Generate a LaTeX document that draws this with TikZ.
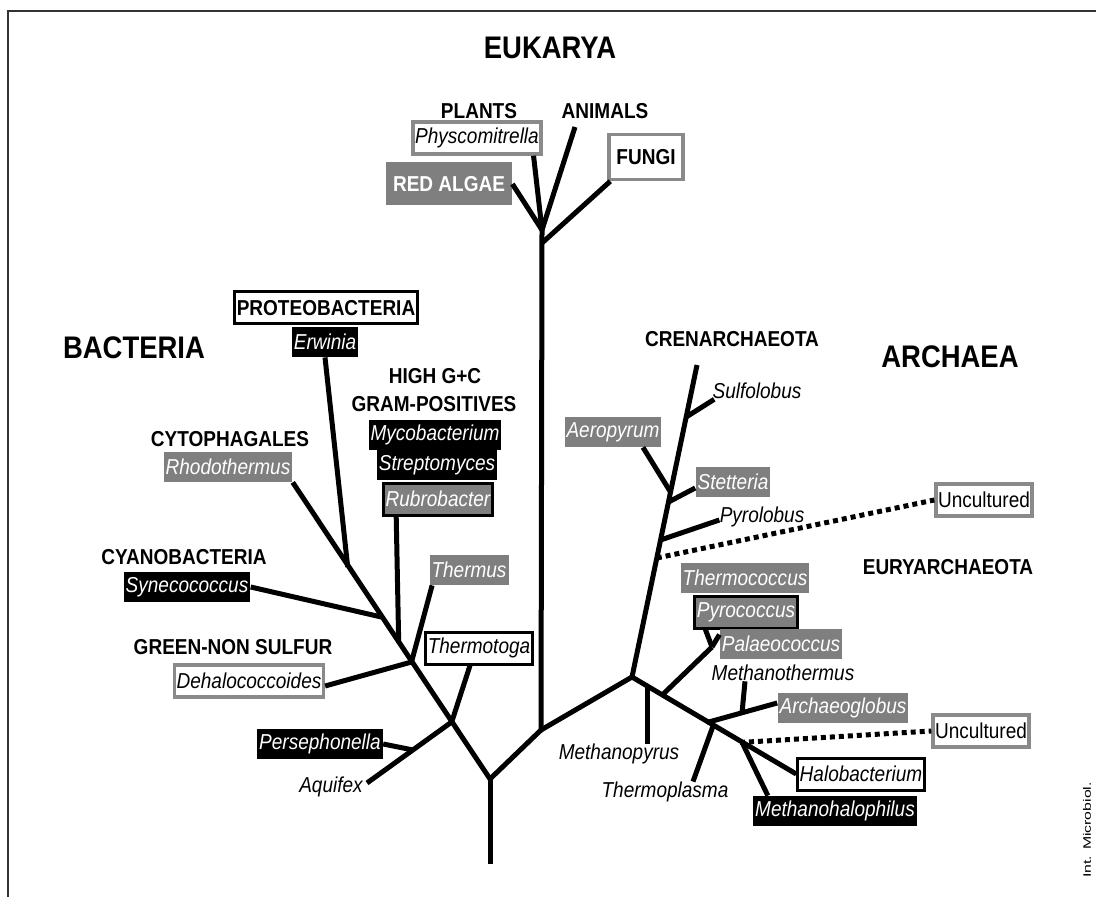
\documentclass[tikz,border=0pt]{standalone}
\usepackage{fontspec}
\setmainfont{Liberation Sans}[FakeStretch=0.88]
\definecolor{midgray}{HTML}{7F7F7F}
\definecolor{edgegray}{HTML}{8A8A8A}
\newcommand{\mysp}{\fontsize{10.8}{12}\selectfont\itshape}
\newcommand{\mygp}{\fontsize{10.8}{12}\selectfont\bfseries}
\newcommand{\mygr}{\fontsize{10.8}{12}\selectfont}
\newcommand{\mybig}{\fontsize{15.6}{18}\selectfont\bfseries}
\begin{document}
\begin{tikzpicture}[x=0.5pt,y=-0.5pt,
  sp/.style={font=\mysp, inner sep=0pt},
  grp/.style={font=\mygp, inner sep=0pt},
  big/.style={font=\mybig, inner sep=0pt},
  boxbase/.style={inner xsep=1pt, inner ysep=0pt, minimum height=15pt, font=\mysp, text=white},
  blk/.style={boxbase, fill=black},
  gry/.style={boxbase, fill=midgray},
  gryb/.style={boxbase, fill=midgray, draw=black, line width=1.5pt, minimum height=16pt},
  wb/.style={boxbase, text=black, fill=white, draw=black, line width=1.5pt, minimum height=16pt},
  wg/.style={boxbase, text=black, fill=white, draw=edgegray, line width=1.75pt, minimum height=16pt},
  branch/.style={line width=2.5pt, black},
  dotline/.style={line width=2.5pt, black, dash pattern=on 2.5pt off 2pt},
  frame/.style={line width=1pt, black!80}
]
\useasboundingbox (0,0) rectangle (1096,897);
\draw[frame] (8,897) -- (8,11) -- (1096,11);

% ---------- Eukarya labels
\node[big] (euk) at (550,48) {EUKARYA};
\node[grp] (plants) at (479,111) {PLANTS};
\node[grp] (animals) at (605,111) {ANIMALS};
\node[wg] (phys) at (477,138) {Physcomitrella};
\node[wg, font=\mygp, minimum width=37pt, minimum height=22.5pt] (fungi) at (646,157) {FUNGI};
\node[gry, font=\mygp, minimum width=63pt, minimum height=21.5pt] (red) at (449,184) {RED ALGAE};

% ---------- Bacteria labels
\node[big] (bact) at (134,348) {BACTERIA};
\node[wb, font=\mygp] (proteo) at (326,308) {PROTEOBACTERIA};
\node[blk] (erw) at (325,342) {Erwinia};
\node[grp] (hgc) at (435,376) {HIGH G+C};
\node[grp] (gpos) at (434,404) {GRAM-POSITIVES};
\node[blk] (myco) at (435,435) {Mycobacterium};
\node[blk] (strep) at (437,465) {Streptomyces};
\node[gryb] (rubro) at (438,499) {Rubrobacter};
\node[grp] (cyto) at (230,439) {CYTOPHAGALES};
\node[gry] (rhodo) at (228,467) {Rhodothermus};
\node[grp] (cyano) at (184,557) {CYANOBACTERIA};
\node[blk] (syn) at (187,587) {Synecococcus};
\node[gry] (thermus) at (469,570) {Thermus};
\node[grp] (gns) at (233,647) {GREEN-NON SULFUR};
\node[wg] (dehalo) at (249,681) {Dehalococcoides};
\node[wb] (thtoga) at (479,648) {Thermotoga};
\node[blk] (perse) at (320,744) {Persephonella};
\node[sp] (aquifex) at (331,787) {Aquifex};

% ---------- Archaea labels
\node[big] (arch) at (950,357) {ARCHAEA};
\node[grp] (cren) at (732,339) {CRENARCHAEOTA};
\node[sp] (sulfo) at (757,391) {Sulfolobus};
\node[gry] (aero) at (613,432) {Aeropyrum};
\node[gry] (stet) at (733,482) {Stetteria};
\node[sp] (pyrol) at (762,517) {Pyrolobus};
\node[wg, font=\mygr] (unc1) at (984,500) {Uncultured};
\node[grp] (eury) at (948,567) {EURYARCHAEOTA};
\node[gry] (thcoc) at (745,578) {Thermococcus};
\node[gryb] (pyroc) at (746,612) {Pyrococcus};
\node[gry] (palaeo) at (781,644) {Palaeococcus};
\node[sp] (mthermus) at (783,673) {Methanothermus};
\node[gry] (archaeo) at (843,708) {Archaeoglobus};
\node[wg, font=\mygr] (unc2) at (981,731) {Uncultured};
\node[wb] (halo) at (861,774) {Halobacterium};
\node[blk] (mhalo) at (835,811) {Methanohalophilus};
\node[sp] (mpyrus) at (619,754) {Methanopyrus};
\node[sp] (tplasma) at (665,792) {Thermoplasma};
\node[font=\fontsize{9}{10}\selectfont, rotate=90, inner sep=0pt] (intm) at (1087,830) {\scalebox{1}[0.6]{Int. Microbiol.}};

% ---------- junction coordinates
\coordinate (r0) at (490,864);
\coordinate (r) at (490,779);
\coordinate (eb) at (541,730);
\coordinate (et) at (542,230);
\coordinate (et2) at (542,243);
\coordinate (anE) at (575,127);
\coordinate (a) at (632,677);
\coordinate (ct) at (697,365);
\coordinate (b1) at (451.7,722);
\coordinate (b2) at (411.5,662);
\coordinate (b3) at (398.7,643);
\coordinate (b4) at (381.3,617);
\coordinate (b5) at (347.7,567);
\coordinate (pj) at (413,750);
\coordinate (aqE) at (367,783);
\coordinate (c1) at (686.2,417);
\coordinate (c2) at (670.5,492);
\coordinate (c3) at (668.5,502);
\coordinate (c4) at (660.5,540);
\coordinate (c5) at (656.8,558);
\coordinate (e1) at (662,695.2);
\coordinate (pf) at (712,647);
\coordinate (e2) at (647,686);
\coordinate (m1) at (707,722.5);
\coordinate (m2) at (713,726);
\coordinate (mt) at (742,713);
\coordinate (d2) at (740,742.5);
\coordinate (mh) at (743,744.3);

% ---------- tree
\draw[branch] (r0) -- (r);
\draw[branch] (r) -- (eb) -- (et);
\draw[branch] (eb) -- (a);
% eukarya
\draw[branch] (et) -- (red.east);
\draw[branch] (et) -- ([xshift=-4.5pt]phys.south east);
\draw[branch] (et) -- (anE);
\draw[branch] (et2) -- ([xshift=1.5pt]fungi.south west);
% bacteria
\draw[branch] (r) -- (rhodo.south east);
\draw[branch] (b5) -- (erw.south);
\draw[branch] (b3) -- ([xshift=7pt]rubro.south west);
\draw[branch] (b4) -- (syn.east);
\draw[branch] (b2) -- ([xshift=1.5pt]thermus.south west);
\draw[branch] (b2) -- ([yshift=-2.5pt]dehalo.east);
\draw[branch] (b1) -- ([xshift=-4.5pt]thtoga.south);
\draw[branch] (b1) -- (aqE);
\draw[branch] (pj) -- (perse.east);
% crenarchaeota
\draw[branch] (a) -- (ct);
\draw[branch] (c1) -- ([xshift=1pt]sulfo.south west);
\draw[branch] (c2) -- ([xshift=15pt]aero.south);
\draw[branch] (c3) -- ([yshift=-3pt]stet.west);
\draw[branch] (c4) -- ([yshift=-1.5pt]pyrol.west);
\draw[dotline] (c5) -- (unc1.west);
% euryarchaeota
\draw[branch] (a) -- (halo.west);
\draw[branch] (e1) -- (pf);
\draw[branch] (pf) -- ([xshift=6pt]pyroc.south west);
\draw[branch] (pf) -- ([yshift=-3pt]palaeo.north west);
\draw[branch] (e2) -- ([xshift=14pt]mpyrus.north);
\draw[branch] (m1) -- ([yshift=2.5pt]archaeo.west);
\draw[branch] (mt) -- ([xshift=-19pt]mthermus.south);
\draw[branch] (m2) -- ([xshift=14pt]tplasma.north);
\draw[dotline] (d2) -- (unc2.west);
\draw[branch] (mh) -- ([xshift=7.5pt]mhalo.north west);
\end{tikzpicture}
\end{document}
